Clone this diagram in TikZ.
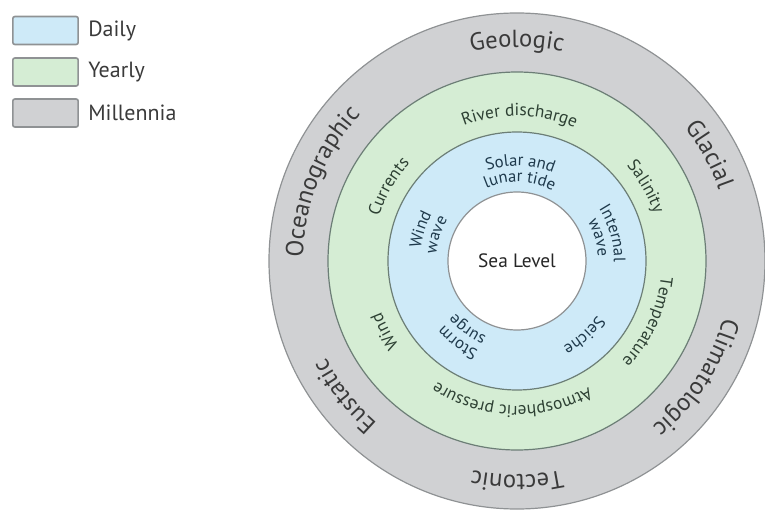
\documentclass[tikz,border=0pt]{standalone}
\usepackage{fontspec}
\setmainfont{PT Sans}
\usetikzlibrary{decorations.text}

\definecolor{ringgrau}{HTML}{D0D1D3}
\definecolor{ringgruen}{HTML}{D5EDD4}
\definecolor{ringblau}{HTML}{CEEAF8}
\definecolor{randgrau}{HTML}{8F9294}
\definecolor{randgruen}{HTML}{6C7E76}
\definecolor{textgrau}{HTML}{3A3A3A}
\definecolor{textgruen}{HTML}{2D4033}
\definecolor{textblau}{HTML}{1E394B}

\newcommand{\aussen}{\color{textgrau}\fontsize{18.5}{20}\selectfont}
\newcommand{\mitte}{\color{textgruen}\fontsize{13}{15}\selectfont}
\newcommand{\innen}{\color{textblau}\fontsize{12.5}{14}\selectfont}

% Text auf Kreisbogen um (M): Radius, Winkel, Format, Text
\newcommand{\bogen}[4]{%
  \path[decorate,decoration={text along path,text align=center,text={|#3|#4}}]
    ([shift={(#2+60:#1)}]M) arc[start angle=#2+60,end angle=#2-60,radius=#1];}

\begin{document}
\begin{tikzpicture}[x=0.75pt,y=0.75pt,
  legbox/.style={draw=randgrau,line width=1.2pt,rounded corners=1.5pt,
    minimum width=49pt,minimum height=21pt,inner sep=0pt},
  legtext/.style={right,inner sep=0pt,text=textgrau,font=\fontsize{16.5}{18}\selectfont},
  ring/.style={line width=0.9pt}]

\useasboundingbox (0,0) rectangle (765,512);

% Legende
\node[legbox,fill=ringblau] (daily) at (45.5,481.5) {};
\node[legbox,fill=ringgruen] (yearly) at (45.5,440) {};
\node[legbox,fill=ringgrau] (millennia) at (45.5,399) {};
\node (dailytext) at (88,481.5) [legtext] {Daily};
\node (yearlytext) at (88,440) [legtext] {Yearly};
\node (millenniatext) at (88,399) [legtext] {Millennia};

% Mittelpunkt
\coordinate (M) at (517,251);

% Ringe
\filldraw[ring,fill=ringgrau,draw=randgrau] (M) circle[radius=248];
\filldraw[ring,fill=ringgruen,draw=randgruen] (M) circle[radius=189];
\filldraw[ring,fill=ringblau,draw=randgruen] (M) circle[radius=129];
\filldraw[ring,fill=white,draw=randgrau] (M) circle[radius=69];

\node (sealevel) at (M) [font=\fontsize{14.5}{16}\selectfont,text=black!85] {Sea Level};

% Millennia
\bogen{214}{90}{\aussen}{Geologic}
\bogen{214}{29}{\aussen}{Glacial}
\bogen{214}{-33}{\aussen}{Climatologic}
\bogen{214}{-90}{\aussen}{Tectonic}
\bogen{214}{218}{\aussen}{Eustatic}
\bogen{214}{158}{\aussen}{Oceanographic}

% Yearly
\bogen{145}{89}{\mitte}{River discharge}
\bogen{145}{30}{\mitte}{Salinity}
\bogen{145}{-25}{\mitte}{Temperature}
\bogen{145}{-92}{\mitte}{Atmospheric pressure}
\bogen{145}{208}{\mitte}{Wind}
\bogen{145}{150}{\mitte}{Currents}

% Daily
\bogen{95}{88}{\innen}{Solar and}
\bogen{79}{88}{\innen}{lunar tide}
\bogen{97}{16}{\innen}{Internal}
\bogen{81}{16}{\innen}{wave}
\bogen{97}{-48}{\innen}{Seiche}
\bogen{97}{234}{\innen}{Storm}
\bogen{81}{234}{\innen}{surge}
\bogen{97}{162}{\innen}{Wind}
\bogen{81}{162}{\innen}{wave}

\end{tikzpicture}
\end{document}
